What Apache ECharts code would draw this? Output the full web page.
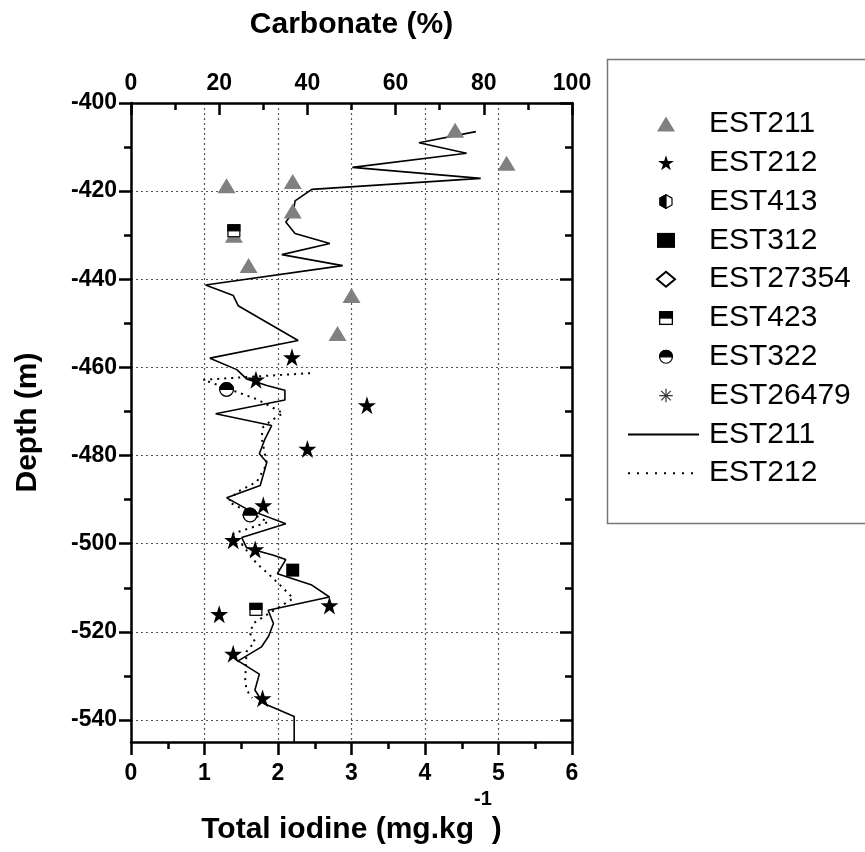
<!DOCTYPE html>
<html><head><meta charset="utf-8">
<script src="https://cdn.jsdelivr.net/npm/echarts@6/dist/echarts.min.js"></script>
<style>html,body{margin:0;padding:0;background:#fff}#c{width:865px;height:852px}</style>
</head><body><div id="c"></div>
<script>
// ---------- data ----------
const iodineTicks = [0, 1, 2, 3, 4, 5, 6];
const carbonateTicks = [0, 20, 40, 60, 80, 100];
const depthTicks = [-540, -520, -500, -480, -460, -440, -420, -400];
const depthMinorTicks = [-530, -510, -490, -470, -450, -430, -410];

// total iodine (mg/kg) vs depth (m)
const est211Iodine = [[4.41,-406.2],[5.11,-413.7],[1.30,-418.8],[2.20,-417.8],[2.20,-424.5],[1.40,-430.0],[1.60,-436.9],[3.00,-443.7],[2.81,-452.3]];
const est212Iodine = [[2.19,-457.7],[1.70,-462.8],[3.21,-468.6],[2.40,-478.5],[1.80,-491.3],[1.39,-499.2],[1.69,-501.3],[2.70,-514.0],[1.20,-516.0],[1.39,-525.0],[1.79,-535.1]];
const est413Iodine = [];
const est312Iodine = [[2.20,-506.0]];
const est27354Iodine = [];
const est423Iodine = [[1.40,-429.0],[1.70,-514.9]];
const est322Iodine = [[1.30,-465.0],[1.62,-493.5]];
const est26479Iodine = [];

// carbonate (%) vs depth (m)
const est211Carbonate = [[78.2,-406.5],[65.3,-409.0],[76.1,-411.4],[50.2,-414.6],[79.3,-417.1],[41.0,-419.6],[37.2,-422.2],[36.8,-424.8],[35.1,-427.0],[37.2,-429.6],[45.1,-431.9],[34.2,-434.4],[48.0,-436.9],[16.9,-441.3],[23.2,-443.7],[24.3,-446.0],[37.9,-453.9],[17.9,-457.9],[24.0,-460.5],[26.2,-462.6],[30.8,-464.1],[34.9,-465.2],[34.9,-467.4],[19.2,-470.5],[31.9,-473.2],[30.4,-476.2],[29.1,-479.6],[30.8,-481.5],[29.3,-486.8],[21.7,-489.6],[26.2,-492.1],[35.1,-495.5],[25.1,-498.6],[26.2,-500.9],[32.3,-502.6],[35.1,-503.6],[33.2,-506.8],[41.0,-509.4],[45.0,-512.1],[31.1,-515.1],[32.3,-518.1],[31.2,-521.0],[29.6,-523.4],[24.3,-526.6],[29.1,-529.6],[28.1,-533.2],[30.0,-536.2],[37.0,-539.2],[37.0,-545.0]];
const est212Carbonate = [[40.6,-461.3],[16.4,-462.8],[28.5,-467.2],[34.5,-470.4],[31.9,-472.0],[30.0,-473.5],[29.6,-475.8],[30.8,-481.9],[28.5,-486.0],[24.0,-488.3],[22.1,-490.5],[31.1,-495.1],[23.2,-497.7],[26.2,-501.5],[28.5,-504.5],[31.1,-506.8],[33.8,-509.4],[36.8,-512.4],[34.2,-514.0],[27.7,-518.1],[27.0,-520.4],[28.1,-522.2],[26.2,-524.5],[25.9,-530.9],[26.2,-533.2],[27.5,-535.0]];

// ---------- styles ----------
const FONT = 'Liberation Sans, Arial, sans-serif';
function svgSym(body) {
  return 'image://data:image/svg+xml;charset=utf-8,' + encodeURIComponent(
    "<svg xmlns='http://www.w3.org/2000/svg' viewBox='0 0 20 20' width='40' height='40'>" + body + "</svg>");
}
const STAR = 'path://M50,0 L61.2,34.5 L97.6,34.5 L68.2,55.9 L79.4,90.5 L50,69.1 L20.6,90.5 L31.8,55.9 L2.4,34.5 L38.8,34.5 Z';
const HALF_CIRCLE = svgSym("<circle cx='10' cy='10' r='8.6' fill='#fff' stroke='#000' stroke-width='1.6'/><path d='M1.4,10 A8.6,8.6 0 0 1 18.6,10 Z' fill='#000' stroke='#000' stroke-width='1.6'/>");
const HALF_SQUARE = svgSym("<rect x='1.5' y='1.5' width='17' height='17' fill='#fff' stroke='#000' stroke-width='1.8'/><rect x='1.5' y='1.5' width='17' height='8.5' fill='#000' stroke='#000' stroke-width='1.8'/>");
const HALF_HEX = svgSym("<polygon points='10,1 18,5.5 18,14.5 10,19 2,14.5 2,5.5' fill='#fff' stroke='#000' stroke-width='1.6'/><polygon points='10,1 2,5.5 2,14.5 10,19' fill='#000' stroke='#000' stroke-width='1.6'/>");
const ASTERISK = svgSym("<g stroke='#333' stroke-width='1.6'><line x1='10' y1='1' x2='10' y2='19'/><line x1='1' y1='10' x2='19' y2='10'/><line x1='3.6' y1='3.6' x2='16.4' y2='16.4'/><line x1='16.4' y1='3.6' x2='3.6' y2='16.4'/></g>");

const axisLineStyle = { color: '#000', width: 2.5 };
const tickStyle = { color: '#000', width: 2.5 };
const labelStyle = { fontSize: 23, fontWeight: 'bold', color: '#000', fontFamily: FONT };
const gridLineStyle = { type: [2, 3], color: '#555', width: 1.2 };

function yAx(position, ticks, len, inside, withLine, withLabel, withSplit) {
  return {
    type: 'value', position: position, min: -545, max: -400,
    axisLine: { show: withLine, onZero: false, lineStyle: axisLineStyle },
    axisTick: { show: true, inside: inside, length: len, lineStyle: tickStyle, customValues: ticks },
    axisLabel: withLabel ? Object.assign({ margin: 14, customValues: ticks }, labelStyle) : { show: false },
    splitLine: { show: withSplit, lineStyle: gridLineStyle },
    minorTick: { show: false }
  };
}

const chart = echarts.init(document.getElementById('c'), null, { renderer: 'canvas' });
chart.setOption({
  animation: false,
  backgroundColor: '#fff',
  grid: { left: 131, right: 293, top: 103, bottom: 110, containLabel: false, outerBoundsMode: 'none' },
  xAxis: [
    {
      type: 'value', position: 'bottom', min: iodineTicks[0], max: iodineTicks[iodineTicks.length - 1], interval: 1,
      axisLine: { show: true, onZero: false, lineStyle: axisLineStyle },
      axisTick: { show: true, inside: false, length: 13, lineStyle: tickStyle },
      minorTick: { show: true, splitNumber: 2, length: 7, lineStyle: tickStyle },
      axisLabel: Object.assign({ margin: 20 }, labelStyle),
      splitLine: { show: true, lineStyle: gridLineStyle },
      name: '{t|Total iodine (mg.kg}{s|-1}{t|)}',
      nameLocation: 'middle', nameGap: 38,
      nameTextStyle: {
        rich: {
          t: { fontSize: 30, fontWeight: 'bold', fontFamily: FONT, color: '#000', lineHeight: 30, verticalAlign: 'bottom' },
          s: { fontSize: 20, fontWeight: 'bold', fontFamily: FONT, color: '#000', lineHeight: 55, verticalAlign: 'top' }
        }
      }
    },
    {
      type: 'value', position: 'top', min: carbonateTicks[0], max: carbonateTicks[carbonateTicks.length - 1], interval: 20,
      axisLine: { show: true, onZero: false, lineStyle: axisLineStyle },
      axisTick: { show: true, inside: true, length: 12, lineStyle: tickStyle },
      minorTick: { show: true, splitNumber: 2, length: 7, lineStyle: tickStyle },
      axisLabel: Object.assign({ margin: 8 }, labelStyle),
      splitLine: { show: false },
      name: 'Carbonate (%)', nameLocation: 'middle', nameGap: 63,
      nameTextStyle: { fontSize: 30, fontWeight: 'bold', fontFamily: FONT, color: '#000' }
    }
  ],
  yAxis: [
    Object.assign(yAx('left', depthTicks, 12, false, true, true, true), {
      name: 'Depth (m)', nameLocation: 'middle', nameGap: 88, nameRotate: 90,
      nameTextStyle: { fontSize: 30, fontWeight: 'bold', fontFamily: FONT, color: '#000' }
    }),
    yAx('left', depthMinorTicks, 7, false, false, false, false),
    yAx('right', depthTicks, 12, true, true, false, false),
    yAx('right', depthMinorTicks, 7, true, false, false, false)
  ],
  legend: [
    {
      orient: 'vertical', left: 656, top: 109, padding: 0, itemGap: 8.8,
      itemWidth: 18, itemHeight: 15, selectedMode: false,
      textStyle: { fontSize: 30, fontFamily: FONT, color: '#000', lineHeight: 30, padding: [0, 0, 0, 29] },
      data: ['EST211', 'EST212', 'EST413', 'EST312', 'EST27354', 'EST423', 'EST322', 'EST26479']
    },
    {
      orient: 'vertical', left: 627, top: 419.4, padding: 0, itemGap: 8.8,
      itemWidth: 71, itemHeight: 14, selectedMode: false,
      itemStyle: { opacity: 0 },
      textStyle: { fontSize: 30, fontFamily: FONT, color: '#000', lineHeight: 30, padding: [0, 0, 0, 5] },
      formatter: function (n) { return n.split(' ')[0]; },
      data: ['EST211 carbonate', { name: 'EST212 carbonate', lineStyle: { type: [2, 7] } }]
    }
  ],
  graphic: [
    { type: 'rect', left: 605, top: 57, z: -1, shape: { width: 270, height: 464 },
      style: { fill: 'none', stroke: '#777', lineWidth: 1.5 } }
  ],
  series: [
    { name: 'EST211 carbonate', type: 'line', xAxisIndex: 1, yAxisIndex: 0, data: est211Carbonate,
      symbol: 'none', lineStyle: { color: '#000', width: 1.6, type: 'solid' }, itemStyle: { color: 'rgba(0,0,0,0)' }, z: 2 },
    { name: 'EST212 carbonate', type: 'line', xAxisIndex: 1, yAxisIndex: 0, data: est212Carbonate,
      symbol: 'none', lineStyle: { color: '#000', width: 2, type: [2, 5] }, itemStyle: { color: 'rgba(0,0,0,0)' }, z: 2 },
    { name: 'EST211', type: 'scatter', data: est211Iodine, symbol: 'triangle', symbolSize: [18, 15],
      itemStyle: { color: '#808080', opacity: 1 }, z: 5 },
    { name: 'EST212', type: 'scatter', data: est212Iodine, symbol: STAR, symbolSize: 18,
      itemStyle: { color: '#000', opacity: 1 }, z: 6 },
    { name: 'EST413', type: 'scatter', data: est413Iodine, symbol: HALF_HEX, symbolSize: [13, 15],
      itemStyle: { color: '#000', opacity: 1 }, z: 5 },
    { name: 'EST312', type: 'scatter', data: est312Iodine, symbol: 'rect', symbolSize: 13,
      itemStyle: { color: '#000', opacity: 1 }, z: 5 },
    { name: 'EST27354', type: 'scatter', data: est27354Iodine, symbol: 'diamond', symbolSize: 15,
      itemStyle: { color: '#fff', borderColor: '#000', borderWidth: 1.3, opacity: 1 }, z: 5 },
    { name: 'EST423', type: 'scatter', data: est423Iodine, symbol: HALF_SQUARE, symbolSize: 14,
      itemStyle: { color: '#000', opacity: 1 }, z: 5 },
    { name: 'EST322', type: 'scatter', data: est322Iodine, symbol: HALF_CIRCLE, symbolSize: 16,
      itemStyle: { color: '#000', opacity: 1 }, z: 5 },
    { name: 'EST26479', type: 'scatter', data: est26479Iodine, symbol: ASTERISK, symbolSize: 15,
      itemStyle: { color: '#000', opacity: 1 }, z: 5 }
  ]
});
</script>
</body></html>
